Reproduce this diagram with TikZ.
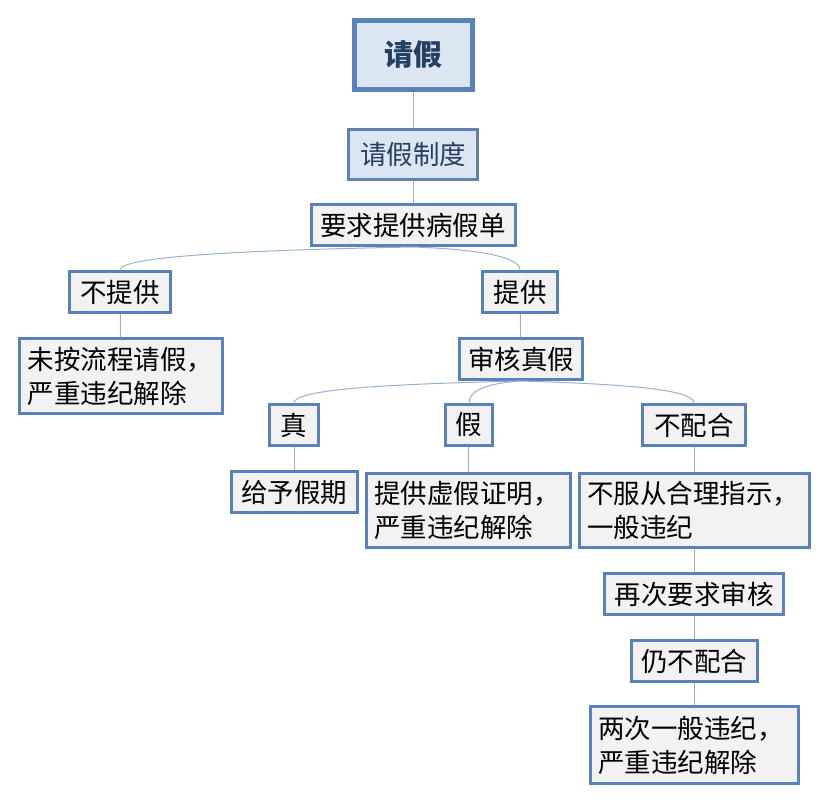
\documentclass[tikz,border=0pt]{standalone}
\usepackage{fontspec}
\setmainfont{Noto Sans CJK SC}
\definecolor{boxline}{HTML}{5A82BA}
\definecolor{boxfill}{HTML}{F2F2F2}
\definecolor{topfill}{HTML}{DCE6F2}
\definecolor{topink}{HTML}{243F60}
\definecolor{linkline}{HTML}{9AB0D2}
\begin{document}
\begin{tikzpicture}[x=1pt, y=-1pt,
	every node/.style={font=\fontsize{26.5}{34}\selectfont},
	box/.style={draw=boxline, line width=3pt, fill=boxfill, inner sep=0pt, minimum height=41pt},
	twoline/.style={box, align=left},
	link/.style={draw=linkline, line width=1pt}]
	\useasboundingbox (0,0) rectangle (829,803);
	% top levels
	\node[box, fill=topfill, text=topink, line width=5pt, minimum width=118pt, minimum height=69pt, font=\fontsize{29}{32}\selectfont\bfseries] (leave) at (413,55) {请假};
	\node[box, fill=topfill, text=topink, draw=boxline!80!gray, minimum width=129pt, minimum height=50pt] (rules) at (413,154) {请假制度};
	\node[box, minimum width=204pt] (ask) at (413,225) {要求提供病假单};
	% left branch
	\node[box, minimum width=101pt] (nosheet) at (120,292) {不提供};
	\node[twoline, minimum width=203pt, minimum height=75pt, text width=187pt] (noproc) at (121,376) {未按流程请假，\\严重违纪解除};
	% right branch
	\node[box, minimum width=75pt] (sheet) at (520,292) {提供};
	\node[box, minimum width=123pt] (check) at (521,359) {审核真假};
	\node[box, minimum width=49pt] (real) at (294,425) {真};
	\node[box, minimum width=47pt] (fake) at (469,425) {假};
	\node[box, minimum width=103pt] (refuse) at (694,425) {不配合};
	\node[box, minimum width=126pt] (grant) at (294,492) {给予假期};
	\node[twoline, minimum width=204pt, minimum height=74pt, text width=188pt] (fakeproof) at (468,510) {提供虚假证明，\\严重违纪解除};
	\node[twoline, minimum width=230pt, minimum height=74pt, text width=214pt] (disobey) at (694,510) {不服从合理指示，\\一般违纪};
	\node[box, minimum width=179pt] (recheck) at (694,594) {再次要求审核};
	\node[box, minimum width=126pt] (still) at (694,661) {仍不配合};
	\node[twoline, minimum width=208pt, minimum height=77pt, text width=192pt] (twice) at (694,745) {两次一般违纪，\\严重违纪解除};
	% connectors
	\draw[link] (leave) -- (rules);
	\draw[link] (rules) -- (ask);
	\draw[link] (ask.south) .. controls +(-160,3) and +(0,-14) .. (nosheet.north);
	\draw[link] (ask.south) .. controls +(60,2) and +(0,-14) .. (sheet.north);
	\draw[link] (nosheet) -- (noproc);
	\draw[link] (sheet) -- (check);
	\draw[link] (check.south) .. controls +(-130,3) and +(0,-14) .. (real.north);
	\draw[link] (check.south) .. controls +(-30,2) and +(0,-14) .. (fake.north);
	\draw[link] (check.south) .. controls +(100,3) and +(0,-14) .. (refuse.north);
	\draw[link] (real) -- (grant);
	\draw[link] (fake) -- (fakeproof);
	\draw[link] (refuse) -- (disobey);
	\draw[link] (disobey) -- (recheck);
	\draw[link] (recheck) -- (still);
	\draw[link] (still) -- (twice);
\end{tikzpicture}
\end{document}
